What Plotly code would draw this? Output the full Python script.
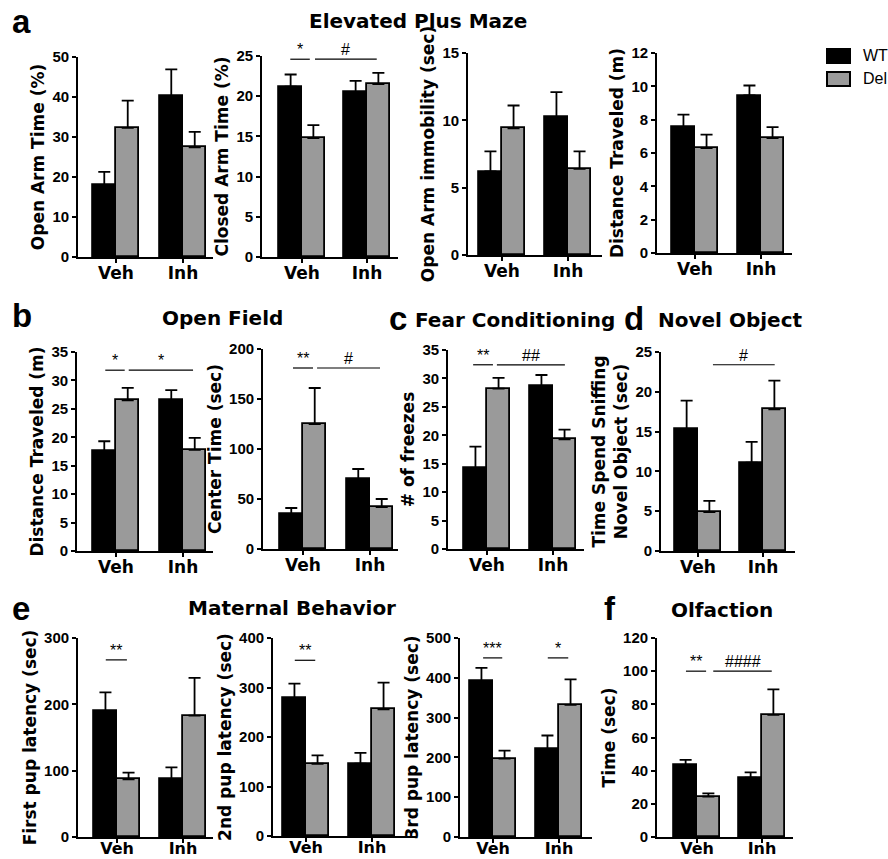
import plotly.graph_objects as go

W, H = 888, 859

groups = ["Veh", "Inh"]
series_names = ["WT", "Del"]

# ---- data (mean, SEM upward) ----
open_arm_wt = [18.0, 40.3]
open_arm_wt_err = [3.3, 6.6]
open_arm_del = [32.3, 27.4]
open_arm_del_err = [6.8, 3.9]

closed_arm_wt = [21.2, 20.5]
closed_arm_wt_err = [1.5, 1.4]
closed_arm_del = [14.8, 21.5]
closed_arm_del_err = [1.6, 1.4]

immobility_wt = [6.2, 10.25]
immobility_wt_err = [1.5, 1.85]
immobility_del = [9.4, 6.4]
immobility_del_err = [1.7, 1.3]

epm_dist_wt = [7.55, 9.45]
epm_dist_wt_err = [0.75, 0.6]
epm_dist_del = [6.3, 6.9]
epm_dist_del_err = [0.8, 0.65]

of_dist_wt = [17.6, 26.5]
of_dist_wt_err = [1.7, 1.8]
of_dist_del = [26.5, 17.8]
of_dist_del_err = [2.2, 2.1]

center_time_wt = [35.0, 70.0]
center_time_wt_err = [6.0, 10.0]
center_time_del = [125.0, 42.0]
center_time_del_err = [36.0, 8.0]

freezes_wt = [14.2, 28.7]
freezes_wt_err = [3.8, 1.9]
freezes_del = [28.2, 19.3]
freezes_del_err = [1.9, 1.7]

novel_obj_wt = [15.3, 11.1]
novel_obj_wt_err = [3.6, 2.6]
novel_obj_del = [4.9, 17.8]
novel_obj_del_err = [1.4, 3.6]

pup1_wt = [190.0, 87.0]
pup1_wt_err = [28.0, 18.0]
pup1_del = [87.0, 183.0]
pup1_del_err = [10.0, 57.0]

pup2_wt = [278.0, 146.0]
pup2_wt_err = [30.0, 22.0]
pup2_del = [146.0, 256.0]
pup2_del_err = [17.0, 54.0]

pup3_wt = [392.0, 221.0]
pup3_wt_err = [33.0, 34.0]
pup3_del = [197.0, 332.0]
pup3_del_err = [20.0, 64.0]

olf_wt = [43.5, 35.8]
olf_wt_err = [3.0, 3.2]
olf_del = [24.3, 73.7]
olf_del_err = [2.0, 15.3]

# ---- panel layout (pixel geometry) ----
# (wt, wt_err, del, del_err, ytitle, ymax, dtick, x0, x1, ytop, ybot, cV, cI)
panels = [
    (open_arm_wt, open_arm_wt_err, open_arm_del, open_arm_del_err, "Open Arm Time (%)", 50, 10, 78, 213, 57, 257, 116, 183),
    (closed_arm_wt, closed_arm_wt_err, closed_arm_del, closed_arm_del_err, "Closed Arm Time (%)", 25, 5, 262, 398, 56, 257, 302, 367),
    (immobility_wt, immobility_wt_err, immobility_del, immobility_del_err, "Open Arm immobility (sec)", 15, 5, 468, 602, 53, 255, 502, 568),
    (epm_dist_wt, epm_dist_wt_err, epm_dist_del, epm_dist_del_err, "Distance Traveled (m)", 12, 2, 657, 792, 53, 253, 695, 761),
    (of_dist_wt, of_dist_wt_err, of_dist_del, of_dist_del_err, "Distance Traveled (m)", 35, 5, 77, 213, 352, 551, 116, 183),
    (center_time_wt, center_time_wt_err, center_time_del, center_time_del_err, "Center Time (sec)", 200, 50, 263, 398, 349, 549, 303, 370),
    (freezes_wt, freezes_wt_err, freezes_del, freezes_del_err, "# of freezes", 35, 5, 448, 584, 350, 549, 487, 553),
    (novel_obj_wt, novel_obj_wt_err, novel_obj_del, novel_obj_del_err, "Time Spend Sniffing<br>Novel Object (sec)", 25, 5, 661, 795, 352, 551, 698, 763),
    (pup1_wt, pup1_wt_err, pup1_del, pup1_del_err, "First pup latency (sec)", 300, 100, 78, 213, 638, 837, 117, 183),
    (pup2_wt, pup2_wt_err, pup2_del, pup2_del_err, "2nd pup latency (sec)", 400, 100, 273, 417, 638, 836, 306, 372),
    (pup3_wt, pup3_wt_err, pup3_del, pup3_del_err, "3rd pup latency (sec)", 500, 100, 460, 592, 638, 837, 493, 559),
    (olf_wt, olf_wt_err, olf_del, olf_del_err, "Time (sec)", 120, 20, 657, 793, 638, 837, 697, 762),
]

# significance marks: (panel index, x0, x1, y, text)
sig_marks = [
    (1, -0.18, 0.12, 24.6, "*"), (1, 0.2, 1.15, 24.6, "#"),
    (4, -0.16, 0.13, 31.8, "*"), (4, 0.19, 1.15, 31.8, "*"),
    (5, -0.15, 0.15, 181, "**"), (5, 0.21, 1.15, 181, "#"),
    (6, -0.21, 0.09, 32.4, "**"), (6, 0.15, 1.18, 32.4, "##"),
    (7, 0.23, 1.18, 23.4, "#"),
    (8, -0.17, 0.15, 267, "**"),
    (9, -0.17, 0.14, 355, "**"),
    (10, -0.15, 0.14, 450, "***"), (10, 0.83, 1.14, 450, "*"),
    (11, -0.17, 0.14, 100, "**"), (11, 0.25, 1.15, 100, "####"),
]

WT_COLOR = "#000000"
DEL_COLOR = "#9a9a9a"
BW = 0.35
TITLE_FONT = "DejaVu Sans"
NUM_FONT = "Liberation Sans"

fig = go.Figure()
layout_axes = {}
xpos = [0, 1]

for i, (wt, wte, dl, dle, ytitle, ymax, dtick, x0, x1, ytop, ybot, cV, cI) in enumerate(panels):
    n = i + 1
    xa = "x" if n == 1 else f"x{n}"
    ya = "y" if n == 1 else f"y{n}"
    bottom_row = i >= 8
    for vals, errs, name, color, off in [(wt, wte, "WT", WT_COLOR, -BW), (dl, dle, "Del", DEL_COLOR, 0.0)]:
        fig.add_trace(go.Bar(
            x=xpos, y=vals, name=name, showlegend=False,
            width=BW, offset=off,
            marker=dict(color=color, line=dict(color="black", width=1.8)),
            error_y=dict(type="data", array=errs, arrayminus=[0, 0], symmetric=False,
                         color="black", thickness=1.8, width=6),
            xaxis=xa, yaxis=ya,
        ))
    unit = cI - cV
    xr = [(x0 - cV) / unit, (x1 - cV) / unit]
    layout_axes["xaxis" if n == 1 else f"xaxis{n}"] = dict(
        domain=[x0 / W, x1 / W], range=xr, anchor=ya, automargin=False,
        tickvals=xpos, ticktext=groups, showline=True, linecolor="black", linewidth=1.8,
        ticks="outside", ticklen=4, tickwidth=1.8, tickcolor="black",
        ticklabelstandoff=-8 if bottom_row else -4,
        tickfont=dict(size=16 if bottom_row else 17, color="black", family=TITLE_FONT, weight="bold"),
        showgrid=False, zeroline=False, fixedrange=True,
    )
    layout_axes["yaxis" if n == 1 else f"yaxis{n}"] = dict(
        domain=[(H - ybot) / H, (H - ytop) / H], range=[0, ymax], anchor=xa, automargin=False,
        dtick=dtick, tick0=0, showline=True, linecolor="black", linewidth=1.8,
        ticks="outside", ticklen=4, tickwidth=1.8, tickcolor="black",
        tickfont=dict(size=15, color="black", family=NUM_FONT, weight="bold"),
        title=dict(text=ytitle, standoff=3,
                   font=dict(size=17, color="black", family=TITLE_FONT, weight="bold")),
        showgrid=False, zeroline=False, fixedrange=True,
    )

shapes = []
annotations = []
for (pi, sx0, sx1, sy, txt) in sig_marks:
    n = pi + 1
    xa = "x" if n == 1 else f"x{n}"
    ya = "y" if n == 1 else f"y{n}"
    shapes.append(dict(type="line", xref=xa, yref=ya, x0=sx0, x1=sx1, y0=sy, y1=sy,
                       line=dict(color="black", width=1.2)))
    annotations.append(dict(xref=xa, yref=ya, x=(sx0 + sx1) / 2, y=sy, text=txt,
                            showarrow=False, yanchor="bottom", yshift=-1,
                            font=dict(size=16, color="black", family=NUM_FONT, weight="normal")))

def title(x, y, text, size=20, xanchor="center", family=TITLE_FONT):
    annotations.append(dict(xref="paper", yref="paper", x=x / W, y=1 - y / H, text=text,
                            showarrow=False, xanchor=xanchor, yanchor="middle",
                            font=dict(size=size, color="black", family=family, weight="bold")))

title(10, 22, "a", 33, "left", NUM_FONT)
title(418, 21, "Elevated Plus Maze")
title(10, 315, "b", 33, "left", NUM_FONT)
title(222, 318, "Open Field")
title(387, 318, "c", 33, "left", NUM_FONT)
title(413, 320, "Fear Conditioning", 20, "left")
title(622, 318, "d", 33, "left", NUM_FONT)
title(656, 320, "Novel Object", 20, "left")
title(10, 608, "e", 33, "left", NUM_FONT)
title(292, 608, "Maternal Behavior")
title(602, 608, "f", 33, "left", NUM_FONT)
title(722, 610, "Olfaction")

# legend (series names drawn as real text next to swatches)
legend_rows = [(49, 63, WT_COLOR), (72, 86, DEL_COLOR)]
for name, (y0, y1, col) in zip(series_names, legend_rows):
    shapes.append(dict(type="rect", xref="paper", yref="paper",
                       x0=827 / W, x1=850 / W, y0=1 - y1 / H, y1=1 - y0 / H,
                       fillcolor=col, line=dict(color="black", width=2)))
    annotations.append(dict(xref="paper", yref="paper", x=861 / W, y=1 - (y0 + y1) / 2 / H,
                            text=name, showarrow=False, xanchor="left", yanchor="middle",
                            font=dict(size=16, color="black", family=NUM_FONT, weight="normal")))

fig.update_layout(
    width=W, height=H,
    margin=dict(l=0, r=0, t=0, b=0, autoexpand=False),
    paper_bgcolor="white", plot_bgcolor="white",
    font=dict(family=NUM_FONT, color="black"),
    showlegend=False,
    bargap=0, bargroupgap=0,
    shapes=shapes, annotations=annotations,
    **layout_axes,
)

fig.write_html("out.html", config={"displayModeBar": False},
               post_script="document.body.style.margin='0';document.body.style.overflow='hidden';")
